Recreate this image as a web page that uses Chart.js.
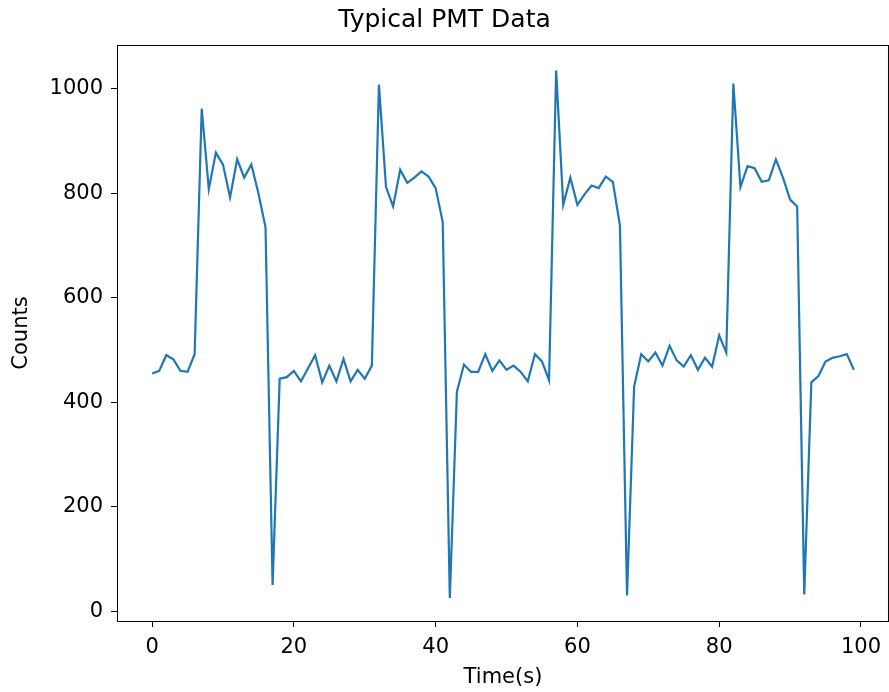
<!DOCTYPE html>
<html>
<head>
<meta charset="utf-8">
<script src="https://cdn.jsdelivr.net/npm/chart.js@4.4.1/dist/chart.umd.min.js"></script>
<style>
  html, body { margin: 0; padding: 0; background: #fff; }
</style>
</head>
<body>
<canvas id="pmtChart" width="889" height="692"></canvas>
<script>
// time axis (seconds)
const timeSec = [
  0, 1, 2, 3, 4, 5, 6, 7, 8, 9, 10, 11, 12, 13, 14, 15, 16, 17, 18, 19,
  20, 21, 22, 23, 24, 25, 26, 27, 28, 29, 30, 31, 32, 33, 34, 35, 36, 37, 38, 39,
  40, 41, 42, 43, 44, 45, 46, 47, 48, 49, 50, 51, 52, 53, 54, 55, 56, 57, 58, 59,
  60, 61, 62, 63, 64, 65, 66, 67, 68, 69, 70, 71, 72, 73, 74, 75, 76, 77, 78, 79,
  80, 81, 82, 83, 84, 85, 86, 87, 88, 89, 90, 91, 92, 93, 94, 95, 96, 97, 98, 99
];

// PMT counts
const counts = [
  455, 460, 490, 482, 460, 458, 492, 962, 808, 878, 855, 792, 865, 830, 855, 800, 735, 50, 445, 448,
  460, 440, 465, 490, 438, 470, 440, 483, 440, 462, 445, 470, 1008, 812, 775, 845, 820, 830, 842, 832,
  810, 745, 25, 420, 472, 458, 458, 492, 460, 480, 462, 470, 458, 440, 492, 478, 442, 1035, 778, 830,
  778, 798, 815, 810, 832, 822, 738, 30, 430, 492, 478, 495, 470, 508, 480, 468, 490, 462, 485, 468,
  528, 495, 1010, 812, 852, 848, 822, 825, 865, 830, 788, 775, 32, 438, 450, 478, 485, 488, 492, 462
];

const xTickValues = [0, 20, 40, 60, 80, 100];
const yTickValues = [0, 200, 400, 600, 800, 1000];

const points = timeSec.map((t, i) => ({ x: t, y: counts[i] }));

const FONT = "'DejaVu Sans', sans-serif";

// matplotlib-like box around the axes
const framePlugin = {
  id: 'frame',
  afterDraw(chart) {
    const a = chart.chartArea;
    const ctx = chart.ctx;
    ctx.save();
    ctx.strokeStyle = '#000';
    ctx.lineWidth = 1;
    ctx.strokeRect(a.left + 0.5, a.top + 0.5, a.right - a.left - 1, a.bottom - a.top);
    ctx.restore();
  }
};

new Chart(document.getElementById('pmtChart').getContext('2d'), {
  type: 'line',
  data: {
    datasets: [{
      data: points,
      borderColor: '#1f77b4',
      borderWidth: 2.2,
      pointRadius: 0,
      tension: 0,
      fill: false
    }]
  },
  options: {
    responsive: false,
    animation: false,
    devicePixelRatio: 1,
    layout: { padding: { top: 0, right: 0, bottom: 0, left: 0 } },
    plugins: {
      legend: { display: false },
      tooltip: { enabled: false },
      title: {
        display: true,
        text: 'Typical PMT Data',
        color: '#000',
        font: { family: FONT, size: 25, weight: 'normal' },
        padding: { top: 5, bottom: 10 }
      }
    },
    scales: {
      x: {
        type: 'linear',
        min: -4.95,
        max: 103.95,
        afterBuildTicks: s => { s.ticks = xTickValues.map(v => ({ value: v })); },
        afterFit: s => { s.height = 71; },
        grid: { drawOnChartArea: false, drawTicks: true, tickLength: 6, color: '#000', tickColor: '#000' },
        border: { display: false },
        ticks: { color: '#000', font: { family: FONT, size: 21 }, padding: 8, maxRotation: 0,
                 callback: v => String(v) },
        title: {
          display: true,
          text: 'Time(s)',
          color: '#000',
          font: { family: FONT, size: 21 },
          padding: { top: 0, bottom: 2 }
        }
      },
      y: {
        type: 'linear',
        min: -19,
        max: 1084,
        afterBuildTicks: s => { s.ticks = yTickValues.map(v => ({ value: v })); },
        afterFit: s => { s.width = 117; },
        grid: { drawOnChartArea: false, drawTicks: true, tickLength: 6, color: '#000', tickColor: '#000' },
        border: { display: false },
        ticks: { color: '#000', font: { family: FONT, size: 21 }, padding: 8,
                 callback: v => String(v) },
        title: {
          display: true,
          text: 'Counts',
          color: '#000',
          font: { family: FONT, size: 21 },
          padding: { top: 9, bottom: 4 }
        }
      }
    }
  },
  plugins: [framePlugin]
});
</script>
</body>
</html>
